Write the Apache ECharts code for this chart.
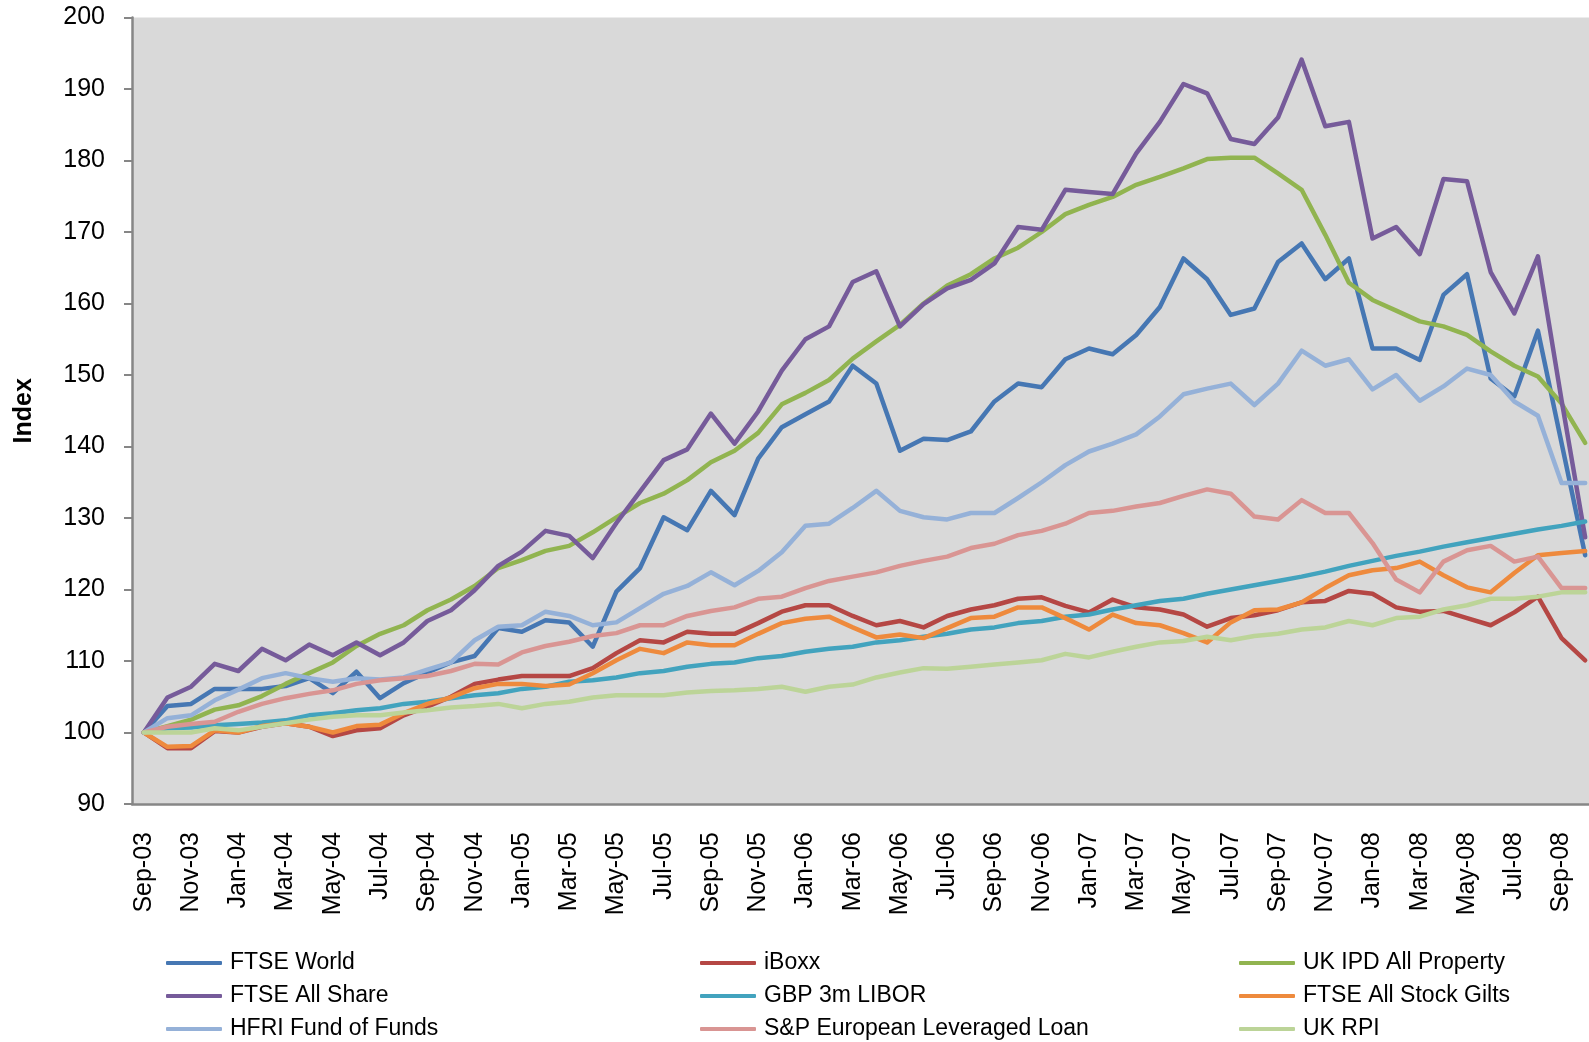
<!DOCTYPE html>
<html>
<head>
<meta charset="utf-8">
<title>Index performance Sep-03 to Oct-08</title>
<script src="https://cdn.jsdelivr.net/npm/echarts@6/dist/echarts.min.js"></script>
<style>
  html, body { margin: 0; padding: 0; background: #fff; overflow: hidden; }
  #chart { width: 1600px; height: 1042px; }
</style>
</head>
<body>
<div id="chart"></div>
<script>
// month categories, Sep-03 .. Oct-08
const months = [
  'Sep-03', 'Oct-03', 'Nov-03', 'Dec-03',
  'Jan-04', 'Feb-04', 'Mar-04', 'Apr-04', 'May-04', 'Jun-04', 'Jul-04', 'Aug-04', 'Sep-04', 'Oct-04', 'Nov-04', 'Dec-04',
  'Jan-05', 'Feb-05', 'Mar-05', 'Apr-05', 'May-05', 'Jun-05', 'Jul-05', 'Aug-05', 'Sep-05', 'Oct-05', 'Nov-05', 'Dec-05',
  'Jan-06', 'Feb-06', 'Mar-06', 'Apr-06', 'May-06', 'Jun-06', 'Jul-06', 'Aug-06', 'Sep-06', 'Oct-06', 'Nov-06', 'Dec-06',
  'Jan-07', 'Feb-07', 'Mar-07', 'Apr-07', 'May-07', 'Jun-07', 'Jul-07', 'Aug-07', 'Sep-07', 'Oct-07', 'Nov-07', 'Dec-07',
  'Jan-08', 'Feb-08', 'Mar-08', 'Apr-08', 'May-08', 'Jun-08', 'Jul-08', 'Aug-08', 'Sep-08', 'Oct-08'
];

const ftseWorld = [100, 103.7, 104.0, 106.1, 106.1, 106.1, 106.5, 107.6, 105.5, 108.5, 104.8, 106.9, 108.4, 109.8, 110.7, 114.6,
  114.1, 115.7, 115.4, 112.0, 119.7, 123.0, 130.1, 128.3, 133.8, 130.4, 138.3, 142.7,
  144.5, 146.3, 151.3, 148.8, 139.4, 141.1, 140.9, 142.1, 146.3, 148.8, 148.3, 152.2,
  153.7, 152.9, 155.6, 159.5, 166.3, 163.4, 158.4, 159.3, 165.8, 168.4, 163.4, 166.3,
  153.7, 153.7, 152.1, 161.2, 164.1, 149.5, 147.0, 156.2, 140.5, 124.8];

const iBoxx = [100, 97.8, 97.8, 100.2, 100.0, 100.8, 101.3, 100.8, 99.5, 100.3, 100.6, 102.4, 103.6, 105.0, 106.8, 107.4,
  107.9, 107.9, 107.9, 109.0, 111.1, 112.9, 112.6, 114.1, 113.8, 113.8, 115.3, 116.9,
  117.8, 117.8, 116.3, 115.0, 115.6, 114.7, 116.3, 117.2, 117.8, 118.7, 118.9, 117.7,
  116.8, 118.6, 117.5, 117.2, 116.5, 114.8, 116.0, 116.4, 117.1, 118.2, 118.4, 119.8,
  119.4, 117.5, 116.9, 117.0, 116.0, 115.0, 116.8, 119.0, 113.2, 110.1];

const ukIpd = [100, 100.9, 101.8, 103.2, 103.8, 105.1, 106.8, 108.3, 109.8, 112.1, 113.8, 115.0, 117.1, 118.6, 120.5, 123.0,
  124.1, 125.4, 126.1, 128.0, 130.1, 132.1, 133.4, 135.3, 137.8, 139.4, 141.9, 145.9,
  147.5, 149.3, 152.3, 154.7, 157.0, 160.0, 162.5, 164.1, 166.3, 167.8, 170.0, 172.5,
  173.8, 174.9, 176.6, 177.7, 178.9, 180.2, 180.4, 180.4, 178.2, 175.9, 169.6, 162.9,
  160.5, 159.0, 157.5, 156.8, 155.6, 153.3, 151.3, 149.8, 146.0, 140.5];

const ftseAllShare = [100, 104.9, 106.4, 109.6, 108.6, 111.7, 110.1, 112.3, 110.8, 112.6, 110.8, 112.6, 115.6, 117.1, 119.9, 123.3,
  125.3, 128.2, 127.5, 124.4, 129.3, 133.7, 138.1, 139.6, 144.6, 140.4, 144.9, 150.6,
  155.0, 156.8, 163.0, 164.5, 156.8, 159.9, 162.1, 163.3, 165.6, 170.7, 170.3, 175.9,
  175.6, 175.3, 181.0, 185.4, 190.7, 189.4, 183.0, 182.3, 186.0, 194.1, 184.8, 185.4,
  169.1, 170.7, 166.9, 177.4, 177.1, 164.4, 158.6, 166.6, 146.5, 127.3];

const libor = [100, 100.6, 100.7, 101.0, 101.2, 101.4, 101.7, 102.4, 102.7, 103.1, 103.4, 104.0, 104.3, 104.8, 105.2, 105.5,
  106.1, 106.4, 107.1, 107.3, 107.7, 108.3, 108.6, 109.2, 109.6, 109.8, 110.4, 110.7,
  111.3, 111.7, 112.0, 112.6, 112.9, 113.4, 113.8, 114.4, 114.7, 115.3, 115.6, 116.2,
  116.5, 117.2, 117.8, 118.4, 118.7, 119.4, 120.0, 120.6, 121.2, 121.8, 122.5, 123.3,
  124.0, 124.7, 125.3, 126.0, 126.6, 127.2, 127.8, 128.4, 128.9, 129.5];

const gilts = [100, 98.0, 98.1, 100.3, 100.0, 100.9, 101.3, 100.8, 100.0, 100.9, 101.1, 102.7, 104.0, 104.9, 106.2, 106.8,
  106.8, 106.5, 106.7, 108.3, 110.1, 111.7, 111.1, 112.6, 112.2, 112.2, 113.8, 115.3,
  115.9, 116.2, 114.7, 113.3, 113.7, 113.2, 114.6, 116.0, 116.2, 117.5, 117.5, 116.0,
  114.4, 116.5, 115.3, 115.0, 113.9, 112.6, 115.4, 117.1, 117.2, 118.2, 120.2, 122.0,
  122.7, 123.0, 123.9, 122.0, 120.3, 119.6, 122.3, 124.8, 125.1, 125.4];

const hfri = [100, 102.0, 102.4, 104.5, 106.0, 107.6, 108.3, 107.6, 107.1, 107.6, 107.4, 107.7, 108.8, 109.8, 112.9, 114.8,
  115.0, 116.9, 116.3, 115.0, 115.4, 117.4, 119.4, 120.5, 122.4, 120.6, 122.6, 125.2,
  128.9, 129.2, 131.4, 133.8, 131.0, 130.1, 129.8, 130.7, 130.7, 132.8, 135.0, 137.4,
  139.3, 140.4, 141.7, 144.2, 147.3, 148.1, 148.8, 145.8, 148.8, 153.4, 151.3, 152.2,
  148.0, 150.0, 146.4, 148.4, 150.9, 150.0, 146.3, 144.3, 134.9, 134.9];

const spLoan = [100, 100.8, 101.2, 101.5, 102.9, 104.0, 104.8, 105.4, 105.9, 106.8, 107.3, 107.6, 107.9, 108.6, 109.6, 109.5,
  111.2, 112.1, 112.7, 113.5, 113.9, 115.0, 115.0, 116.3, 117.0, 117.5, 118.7, 119.0,
  120.2, 121.2, 121.8, 122.4, 123.3, 124.0, 124.6, 125.8, 126.4, 127.6, 128.2, 129.2,
  130.7, 131.0, 131.6, 132.1, 133.1, 134.0, 133.4, 130.2, 129.8, 132.5, 130.7, 130.7,
  126.5, 121.4, 119.6, 123.9, 125.5, 126.1, 123.9, 124.6, 120.2, 120.2];

const ukRpi = [100, 100.0, 100.0, 100.6, 100.3, 100.8, 101.3, 101.8, 102.2, 102.4, 102.4, 102.8, 103.1, 103.5, 103.7, 104.0,
  103.4, 104.0, 104.3, 104.9, 105.2, 105.2, 105.2, 105.6, 105.8, 105.9, 106.1, 106.4,
  105.7, 106.4, 106.7, 107.7, 108.4, 109.0, 108.9, 109.2, 109.5, 109.8, 110.1, 111.0,
  110.5, 111.3, 112.0, 112.6, 112.8, 113.4, 112.9, 113.5, 113.8, 114.4, 114.7, 115.6,
  115.0, 116.0, 116.2, 117.2, 117.8, 118.7, 118.7, 119.0, 119.6, 119.6];

const yTicks = { min: 90, max: 200, step: 10 };

// series in the sheet's order (legend reads row by row)
const seriesDefs = [
  { name: 'FTSE World', data: ftseWorld, color: '#4677B3' },
  { name: 'iBoxx', data: iBoxx, color: '#B54744' },
  { name: 'UK IPD All Property', data: ukIpd, color: '#91B450' },
  { name: 'FTSE All Share', data: ftseAllShare, color: '#765B9A' },
  { name: 'GBP 3m LIBOR', data: libor, color: '#42A3BE' },
  { name: 'FTSE All Stock Gilts', data: gilts, color: '#EE8A3D' },
  { name: 'HFRI Fund of Funds', data: hfri, color: '#95B1D8' },
  { name: 'S&P European Leveraged Loan', data: spLoan, color: '#D99593' },
  { name: 'UK RPI', data: ukRpi, color: '#BCD498' },
];

const font = '"Liberation Sans", Arial, sans-serif';
const axisGrey = '#868686';

function legendColumn(names, left) {
  return {
    data: names,
    orient: 'vertical',
    left: left,
    top: 950,
    padding: 0,
    itemGap: 7,
    itemWidth: 56,
    itemHeight: 4,
    icon: 'roundRect',
    selectedMode: false,
    textStyle: { fontFamily: font, fontSize: 23, lineHeight: 26, color: '#000', padding: [0, 0, 0, 3] },
  };
}

const chart = echarts.init(document.getElementById('chart'));

chart.setOption({
  animation: false,
  backgroundColor: '#fff',
  textStyle: { fontFamily: font },
  grid: {
    left: 132,
    right: 3,
    top: 17.5,
    bottom: 238,
    show: true,
    backgroundColor: '#d9d9d9',
    borderWidth: 0,
  },
  legend: [
    legendColumn(['FTSE World', 'FTSE All Share', 'HFRI Fund of Funds'], 166),
    legendColumn(['iBoxx', 'GBP 3m LIBOR', 'S&P European Leveraged Loan'], 700),
    legendColumn(['UK IPD All Property', 'FTSE All Stock Gilts', 'UK RPI'], 1239),
  ],
  xAxis: {
    type: 'category',
    data: months,
    boundaryGap: true,
    axisLine: { lineStyle: { color: axisGrey, width: 2.5 } },
    axisTick: { interval: 1, length: 8, lineStyle: { color: axisGrey, width: 2 } },
    axisLabel: { interval: 1, rotate: 90, margin: 28, fontSize: 25, color: '#000', fontFamily: font },
    splitLine: { show: false },
  },
  yAxis: {
    type: 'value',
    min: yTicks.min,
    max: yTicks.max,
    interval: yTicks.step,
    name: 'Index',
    nameLocation: 'middle',
    nameGap: 95,
    nameTextStyle: { fontSize: 25, fontWeight: 'bold', color: '#000', fontFamily: font },
    axisLine: { show: true, lineStyle: { color: axisGrey, width: 2.5 } },
    axisTick: { show: true, length: 8, lineStyle: { color: axisGrey, width: 2 } },
    axisLabel: { margin: 27, fontSize: 25, color: '#000', fontFamily: font },
    splitLine: { show: false },
  },
  series: seriesDefs.map((s) => ({
    name: s.name,
    type: 'line',
    data: s.data,
    showSymbol: false,
    symbol: 'none',
    color: s.color,
    lineStyle: { width: 4.5, color: s.color, join: 'round', cap: 'round' },
    emphasis: { disabled: true },
  })),
});
</script>
</body>
</html>
